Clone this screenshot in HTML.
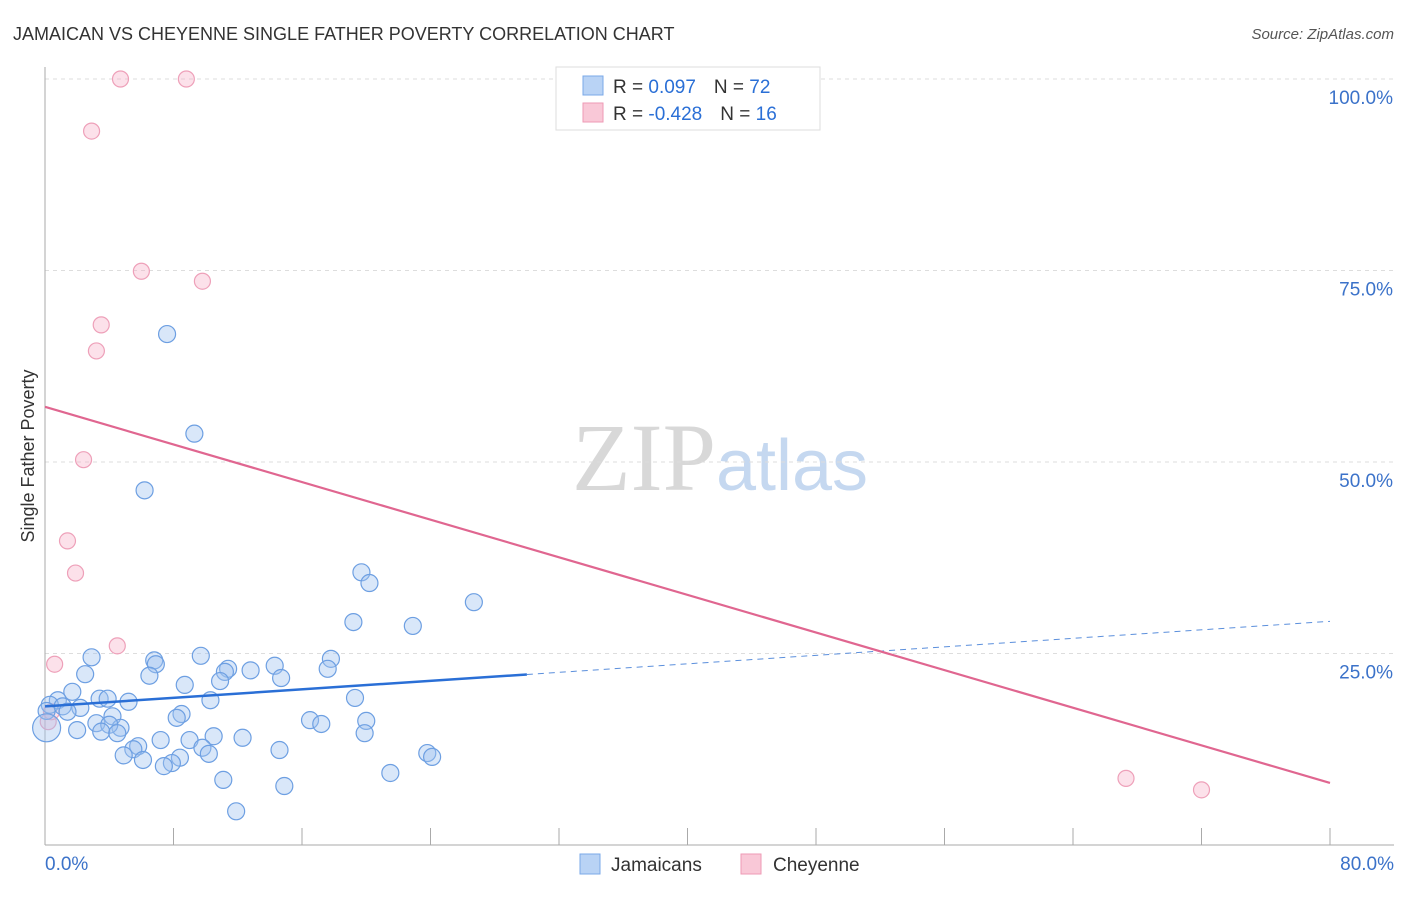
<!DOCTYPE html>
<html><head><meta charset="utf-8"><style>
body{margin:0;background:#fff;font-family:"Liberation Sans",sans-serif;}
</style></head><body>
<svg id="chart" width="1406" height="892" xmlns="http://www.w3.org/2000/svg" style="font-family:'Liberation Sans',sans-serif">
<text x="13" y="40" font-size="18" fill="#333">JAMAICAN VS CHEYENNE SINGLE FATHER POVERTY CORRELATION CHART</text>
<text x="1394" y="39" font-size="15" fill="#555" text-anchor="end" font-style="italic">Source: ZipAtlas.com</text>
<text x="720" y="490" font-size="96" text-anchor="middle"><tspan fill="#d8d8d8" font-family="Liberation Serif">ZIP</tspan><tspan fill="#c5d8f0" font-size="72">atlas</tspan></text>
<text transform="translate(34,456) rotate(-90)" font-size="18" fill="#333" text-anchor="middle">Single Father Poverty</text>
<g id="grid"></g><g id="axes"></g><g id="marks"></g>
<g>
<rect x="556" y="67" width="264" height="63" fill="#fff" stroke="#ddd"/>
<rect x="583" y="76" width="20" height="19" fill="#b9d3f5" stroke="#7aa8e8"/>
<rect x="583" y="103" width="20" height="19" fill="#f9c8d7" stroke="#ee9ab4"/>
<text x="613" y="93" font-size="19" fill="#333">R =  <tspan fill="#2a6fd6">0.097</tspan><tspan dx="18" fill="#333">N = </tspan><tspan fill="#2a6fd6">72</tspan></text>
<text x="613" y="120" font-size="19" fill="#333">R = <tspan fill="#2a6fd6">-0.428</tspan><tspan dx="18" fill="#333">N = </tspan><tspan fill="#2a6fd6"> 16</tspan></text>
</g>
<g>
<rect x="580" y="854" width="20" height="20" fill="#b9d3f5" stroke="#7aa8e8"/>
<text x="611" y="871" font-size="19" fill="#333">Jamaicans</text>
<rect x="741" y="854" width="20" height="20" fill="#f9c8d7" stroke="#ee9ab4"/>
<text x="773" y="871" font-size="19" fill="#333">Cheyenne</text>
</g>
</svg>
<script>
const xTicks=[0,8,16,24,32,40,48,56,64,72,80];
const yTicks=[25,50,75,100];
const blueX=[7.6,9.3,6.2,19.7,20.2,26.7,19.2,22.9,2.9,6.8,6.9,9.7,17.8,14.3,11.4,12.8,11.2,17.6,2.5,6.5,10.9,14.7,8.7,1.7,0.8,3.4,3.9,5.2,10.3,19.3,0.3,1.1,2.2,0.1,1.4,4.2,8.5,8.2,16.5,17.2,20.0,3.2,4.7,4.0,2.0,3.5,4.5,19.9,10.5,12.3,7.2,9.0,5.8,5.5,9.8,14.6,10.2,23.8,24.1,4.9,8.4,6.1,7.9,7.4,21.5,11.1,14.9,11.9];
const blueY=[66.7,53.7,46.3,35.6,34.2,31.7,29.1,28.6,24.5,24.1,23.6,24.7,24.3,23.4,23.0,22.8,22.6,23.0,22.3,22.1,21.4,21.8,20.9,20.0,18.9,19.1,19.1,18.7,18.9,19.2,18.3,18.1,17.9,17.5,17.4,16.8,17.1,16.6,16.3,15.8,16.2,15.9,15.3,15.7,15.0,14.8,14.6,14.6,14.2,14.0,13.7,13.7,12.9,12.5,12.7,12.4,11.9,12.0,11.5,11.7,11.4,11.1,10.7,10.3,9.4,8.5,7.7,4.4];
const pinkX=[4.7,8.8,2.9,6.0,9.8,3.5,3.2,2.4,1.4,1.9,4.5,0.6,0.2,0.4,67.3,72.0];
const pinkY=[100,100,93.2,74.9,73.6,67.9,64.5,50.3,39.7,35.5,26.0,23.6,16.1,17.4,8.7,7.2];
const blueTrend=[18.1,29.2]; // y at x=0, x=80
const pinkTrend=[57.2,8.1];
const NS="http://www.w3.org/2000/svg";
const X=v=>45+v*(1330-45)/80;
const Y=v=>845-v*7.66;
function mk(p,t,a){const e=document.createElementNS(NS,t);for(const k in a)e.setAttribute(k,a[k]);document.getElementById(p).appendChild(e);return e;}
yTicks.forEach(t=>{const l=mk('grid','line',{x1:45,x2:1394,y1:Y(t),y2:Y(t),stroke:'#ddd','stroke-dasharray':'4,4'});


const tx=mk('grid','text',{x:1393,y:Y(t)+25,'font-size':19,fill:'#3b72c9','text-anchor':'end'});tx.textContent=t.toFixed(1)+'%';

});
const ax=mk('axes','line',{x1:45,x2:45,y1:67,y2:845,stroke:'#aaa'});


const bx=mk('axes','line',{x1:45,x2:1394,y1:845,y2:845,stroke:'#aaa'});


xTicks.forEach(t=>{const l=mk('axes','line',{x1:X(t),x2:X(t),y1:828,y2:845,stroke:'#aaa'});

});
[[0,'0.0%','start',45],[80,'80.0%','end',1394]].forEach(d=>{const t=mk('axes','text',{x:d[3],y:870,'font-size':19,fill:'#3b72c9','text-anchor':d[2]});t.textContent=d[1];

});
pinkX.forEach((v,i)=>{const c=mk('marks','circle',{cx:X(v),cy:Y(pinkY[i]),r:8,fill:'rgba(245,170,195,0.35)',stroke:'#eea0b9','stroke-width':1.2});

});
blueX.forEach((v,i)=>{const c=mk('marks','circle',{cx:X(v),cy:Y(blueY[i]),r:8.5,fill:'rgba(160,195,240,0.4)',stroke:'#6d9fe2','stroke-width':1.2});

});
const big=mk('marks','circle',{cx:X(0.1),cy:Y(15.3),r:14,fill:'rgba(160,195,240,0.4)',stroke:'#6d9fe2','stroke-width':1.2});


const bt=x=>blueTrend[0]+(blueTrend[1]-blueTrend[0])*x/80;
const pt=x=>pinkTrend[0]+(pinkTrend[1]-pinkTrend[0])*x/80;
const l1=mk('marks','line',{x1:X(0),y1:Y(bt(0)),x2:X(30),y2:Y(bt(30)),stroke:'#2a6fd6','stroke-width':2.5});


const l2=mk('marks','line',{x1:X(30),y1:Y(bt(30)),x2:X(80),y2:Y(bt(80)),stroke:'#5b8fdc','stroke-width':1,'stroke-dasharray':'6,5'});


const l3=mk('marks','line',{x1:X(0),y1:Y(pt(0)),x2:X(80),y2:Y(pt(80)),stroke:'#e06690','stroke-width':2.2});


</script>
</body></html>
